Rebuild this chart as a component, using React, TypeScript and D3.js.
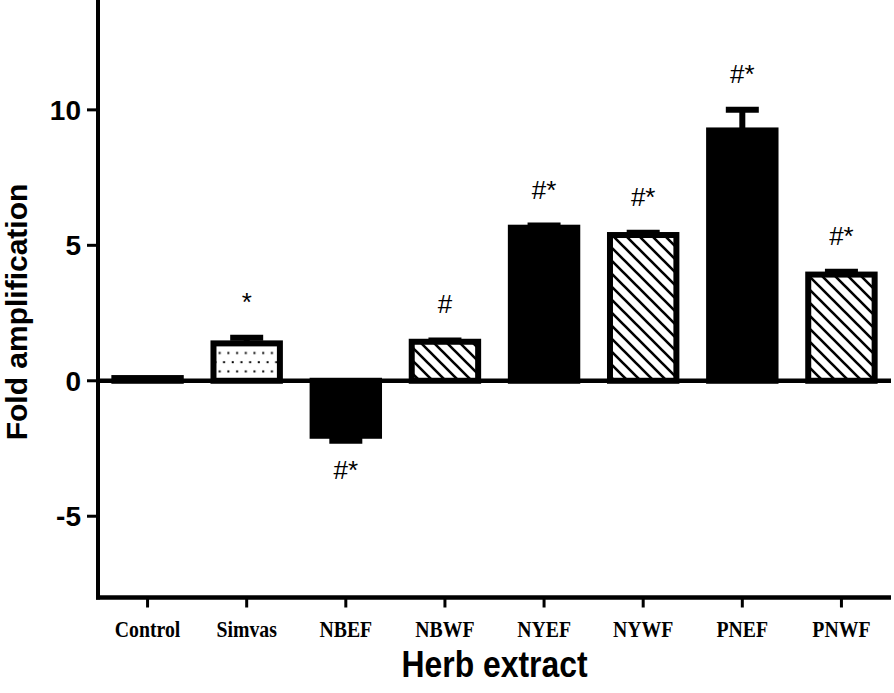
import React, { useEffect, useRef } from "react";
import * as d3 from "d3";

// values
const categories = ["Control", "Simvas", "NBEF", "NBWF", "NYEF", "NYWF", "PNEF", "PNWF"];
const foldValues = [0.1, 1.38, -2.03, 1.44, 5.65, 5.38, 9.24, 3.92];
const errValues = [0, 0.21, 0.18, 0.05, 0.08, 0.08, 0.76, 0.1];
const fillKinds = ["solid", "dots", "solid", "hatch", "solid", "hatch", "solid", "hatch"];
const sigMarks = ["", "*", "#*", "#", "#*", "#*", "#*", "#*"];
const yTicks = [-5, 0, 5, 10];

const width = 894;
const height = 693;

export default function App() {
  const ref = useRef<SVGSVGElement>(null);

  useEffect(() => {
    const svg = d3.select(ref.current);
    svg.selectAll("*").remove();

    const x0 = 98, x1 = 891;
    const x = d3.scaleBand<string>().domain(categories).range([x0, x1]).padding(0);
    const y = d3.scaleLinear().domain([-8, 14]).range([597.5, 1.5]);

    const defs = svg.append("defs");
    // diagonal hatch
    const hatch = defs.append("pattern")
      .attr("id", "hatch")
      .attr("patternUnits", "userSpaceOnUse")
      .attr("width", 13).attr("height", 13);
    hatch.append("rect").attr("width", 13).attr("height", 13).attr("fill", "white");
    hatch.append("path")
      .attr("d", "M-6.5,-6.5 L19.5,19.5 M-6.5,6.5 L6.5,19.5 M6.5,-6.5 L19.5,6.5")
      .attr("stroke", "black").attr("stroke-width", 2.6);
    // dotted fill
    const dots = defs.append("pattern")
      .attr("id", "dots")
      .attr("patternUnits", "userSpaceOnUse")
      .attr("width", 8.7).attr("height", 18.4);
    dots.append("rect").attr("width", 8.7).attr("height", 18.4).attr("fill", "white");
    dots.append("rect").attr("x", 1.2).attr("y", 2.4).attr("width", 2).attr("height", 2).attr("fill", "black");
    dots.append("rect").attr("x", 5.55).attr("y", 11.6).attr("width", 2).attr("height", 2).attr("fill", "black");

    const barW = x.bandwidth() * 0.67;
    const cx = (c: string) => (x(c) as number) + x.bandwidth() / 2;
    const fillOf = (k: string) => (k === "hatch" ? "url(#hatch)" : k === "dots" ? "url(#dots)" : "black");

    // error bars (only away from zero)
    categories.forEach((c, i) => {
      const v = foldValues[i], e = errValues[i];
      if (e <= 0) return;
      const tip = v >= 0 ? v + e : v - e;
      svg.append("line")
        .attr("x1", cx(c)).attr("x2", cx(c))
        .attr("y1", y(v)).attr("y2", y(tip))
        .attr("stroke", "black").attr("stroke-width", 6);
      svg.append("line")
        .attr("x1", cx(c) - 16.5).attr("x2", cx(c) + 16.5)
        .attr("y1", y(tip)).attr("y2", y(tip))
        .attr("stroke", "black").attr("stroke-width", 6);
    });

    // bars
    svg.append("g")
      .selectAll("rect")
      .data(categories)
      .join("rect")
      .attr("x", (c) => cx(c) - barW / 2)
      .attr("width", barW)
      .attr("y", (c, i) => y(Math.max(0, foldValues[i])))
      .attr("height", (c, i) => Math.abs(y(foldValues[i]) - y(0)))
      .attr("fill", (c, i) => fillOf(fillKinds[i]))
      .attr("stroke", "black")
      .attr("stroke-width", 6);

    // zero line
    svg.append("line")
      .attr("x1", x0).attr("x2", x1)
      .attr("y1", y(0)).attr("y2", y(0))
      .attr("stroke", "black").attr("stroke-width", 4.5);

    // significance marks
    svg.append("g")
      .selectAll("text")
      .data(categories)
      .join("text")
      .attr("x", (c) => cx(c))
      .attr("y", (c, i) => {
        const v = foldValues[i], e = errValues[i];
        return v >= 0 ? y(v + e) - 27 : y(v - e) + 38;
      })
      .attr("text-anchor", "middle")
      .style("font-family", "'Liberation Sans', Arial, sans-serif")
      .style("font-size", "26px")
      .text((c, i) => sigMarks[i]);

    // y axis
    svg.append("line")
      .attr("x1", x0).attr("x2", x0)
      .attr("y1", 0).attr("y2", y(-8) + 2)
      .attr("stroke", "black").attr("stroke-width", 4);
    yTicks.forEach((t) => {
      svg.append("line")
        .attr("x1", 87).attr("x2", x0)
        .attr("y1", y(t)).attr("y2", y(t))
        .attr("stroke", "black").attr("stroke-width", 3);
      svg.append("text")
        .attr("x", 81).attr("y", y(t))
        .attr("dy", "0.36em")
        .attr("text-anchor", "end")
        .style("font-family", "'Liberation Sans', Arial, sans-serif")
        .style("font-weight", "bold")
        .style("font-size", "28px")
        .text(t);
    });

    // x axis
    svg.append("line")
      .attr("x1", x0 - 2).attr("x2", x1)
      .attr("y1", y(-8)).attr("y2", y(-8))
      .attr("stroke", "black").attr("stroke-width", 4.5);
    categories.forEach((c) => {
      svg.append("line")
        .attr("x1", cx(c)).attr("x2", cx(c))
        .attr("y1", y(-8)).attr("y2", y(-8) + 10)
        .attr("stroke", "black").attr("stroke-width", 3);
      // tall, slightly narrow serif labels
      svg.append("text")
        .attr("transform", `translate(${cx(c)},637) scale(0.86,1)`)
        .attr("text-anchor", "middle")
        .style("font-family", "'Liberation Serif', 'Times New Roman', serif")
        .style("font-weight", "bold")
        .style("font-size", "23px")
        .text(c);
    });

    // axis titles
    svg.append("text")
      .attr("x", (x0 + x1) / 2).attr("y", 677)
      .attr("text-anchor", "middle")
      .attr("textLength", 186)
      .attr("lengthAdjust", "spacingAndGlyphs")
      .style("font-family", "'Liberation Sans', Arial, sans-serif")
      .style("font-weight", "bold")
      .style("font-size", "36px")
      .text("Herb extract");

    svg.append("text")
      .attr("transform", `translate(27,312) rotate(-90)`)
      .attr("text-anchor", "middle")
      .style("font-family", "'Liberation Sans', Arial, sans-serif")
      .style("font-weight", "bold")
      .style("font-size", "30px")
      .text("Fold amplification");
  }, []);

  return (
    <svg
      ref={ref}
      width={width}
      height={height}
      style={{ position: "absolute", left: 0, top: 0, background: "white" }}
    />
  );
}
